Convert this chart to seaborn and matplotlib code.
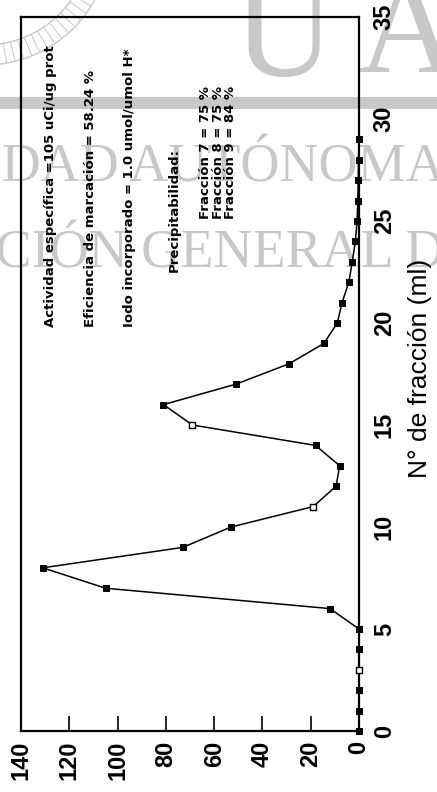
import matplotlib
matplotlib.use('Agg')
import matplotlib.pyplot as plt
from matplotlib.patches import Arc, Rectangle
import numpy as np
import seaborn as sns
import pandas as pd

# Datos (actividad por fraccion)
fraccion = list(range(0, 30))
actividad = [0, 0, 0, 0, 0, 0, 12, 105, 131, 73, 53, 19, 9.5, 8, 18,
             69, 81, 51, 29, 14.5, 9, 7, 4.2, 2.8, 1.5, 0.8, 0.5, 0.3, 0.2, 0]
abiertos = [3, 11, 15]  # fracciones con marcador hueco

ticks_act = [0, 20, 40, 60, 80, 100, 120, 140]
ticks_frac = [0, 5, 10, 15, 20, 25, 30, 35]

notas = ["Actividad específica =105 uCi/ug prot",
         "Eficiencia de marcación = 58.24 %",
         "Iodo incorporado = 1.0 umol/umol H*",
         "Precipitabilidad:"]
precip = ["Fracción 7 = 75 %", "Fracción 8 = 75 %", "Fracción 9 = 84 %"]

df = pd.DataFrame({'Fraccion': fraccion, 'Actividad': actividad})

sns.set_theme(style='white')
plt.rcParams['font.family'] = ['Liberation Sans', 'DejaVu Sans']
plt.rcParams['text.color'] = 'black'
plt.rcParams['xtick.color'] = 'black'
plt.rcParams['ytick.color'] = 'black'

W, H = 437, 792
fig = plt.figure(figsize=(W / 100, H / 100), dpi=100)

# --- capa de fondo (marca de agua), en pixeles ---
bg = fig.add_axes([0, 0, 1, 1], zorder=-1)
bg.set_xlim(0, W)
bg.set_ylim(H, 0)
bg.axis('off')
gris = '#c8c8c8'
bg.add_patch(Rectangle((0, 97), W, 12, color=gris, lw=0))
bg.text(445, 181, 'UNIVERSIDAD AUTÓNOMA', family='Liberation Serif',
        fontsize=39, color=gris, ha='right', va='baseline')
bg.text(-167, 268, 'DIRECCIÓN GENERAL DE BIBLIOTECAS', family='Liberation Serif',
        fontsize=39, color=gris, ha='left', va='baseline')
bg.text(233, 76, 'U', family='Liberation Serif', fontsize=100, color=gris,
        ha='left', va='baseline')
bg.text(358, 72, 'A', family='Liberation Serif', fontsize=100, color=gris,
        ha='left', va='baseline')
for r in (105, 125):
    bg.add_patch(Arc((-15, -60), 2 * r, 2 * r, theta1=0, theta2=90, color=gris, lw=1))
for a in np.arange(24, 86, 4):
    t = np.radians(a)
    bg.plot([-15 + 105 * np.cos(t), -15 + 125 * np.cos(t)],
            [-60 + 105 * np.sin(t), -60 + 125 * np.sin(t)], color=gris, lw=0.7)

# --- grafica principal (girada: actividad en horizontal, fraccion en vertical) ---
ax = fig.add_axes([21 / W, 1 - 731 / H, 338 / W, 714 / H])
ax.set_facecolor('none')
sns.lineplot(data=df, x='Actividad', y='Fraccion', orient='y', color='black',
             lw=1.1, marker='s', markersize=4, markeredgecolor='black',
             ax=ax, clip_on=False)
sns.scatterplot(data=df[df['Fraccion'].isin(abiertos)], x='Actividad', y='Fraccion',
                marker='s', s=15, facecolor='white', edgecolor='black', linewidth=1,
                ax=ax, zorder=3, clip_on=False)

ax.set_xlim(140, 0)
ax.set_ylim(0, 35)
ax.set_xticks(ticks_act)
ax.set_yticks(ticks_frac)
ax.yaxis.tick_right()
ax.set_xlabel('')
ax.set_ylabel('')
ax.tick_params(axis='x', direction='in', length=11, width=1.2, pad=7,
               labelsize=17, labelrotation=90, bottom=True)
ax.tick_params(axis='y', length=0, pad=10, labelsize=17, labelrotation=90,
               right=True, left=False)
for lbl in ax.get_xticklabels() + ax.get_yticklabels():
    lbl.set_fontweight('bold')
for lbl in ax.get_yticklabels():
    lbl.set_va('center')
for s in ax.spines.values():
    s.set_visible(True)
    s.set_color('black')
    s.set_linewidth(1.6)

bg.text(420, 368, 'N° de fracción (ml)', rotation=90, ha='center', va='center',
        fontsize=19)

# --- textos de la figura ---
for x, y, txt in zip([51, 91, 130, 174], [327, 327, 327, 272], notas):
    bg.text(x, y, txt, rotation=90, ha='center', va='bottom', family='DejaVu Sans',
            fontweight='bold', fontsize=9.5)
bg.text(218, 219, '\n'.join(precip), rotation=90, ha='center', va='bottom',
        multialignment='left', linespacing=0.95, family='DejaVu Sans',
        fontweight='bold', fontsize=9.5)

fig.savefig('out.png', dpi=100)
